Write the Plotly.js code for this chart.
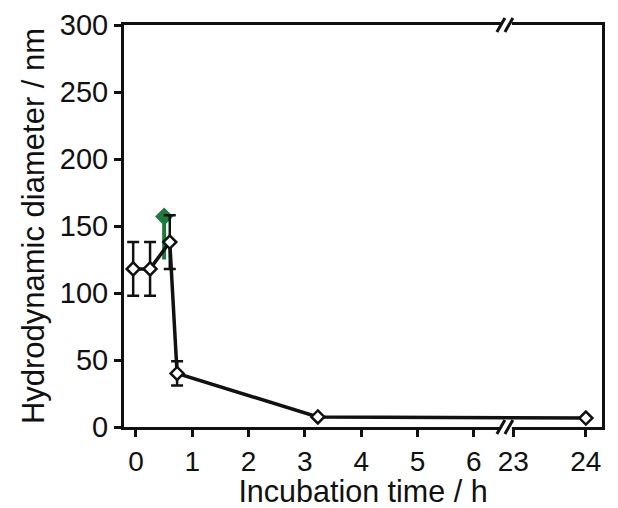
<!DOCTYPE html>
<html>
<head>
<meta charset="utf-8">
<script src="https://cdn.plot.ly/plotly-3.0.1.min.js"></script>
<style>html,body{margin:0;padding:0;background:#fff;}#chart{width:618px;height:508px;}</style>
</head>
<body>
<div id="chart"></div>
<script>
// Data (incubation time in h, hydrodynamic diameter in nm)
const timeBlack = [-0.05, 0.25, 0.6, 0.73, 3.23, 24];
const diamBlack = [118, 118, 138, 40, 7.5, 6.7];
const errBlack  = [20, 20, 20, 9, 0, 0];
const timeGreen = [0.5];
const diamGreen = [157];
const errGreenMinus = [32];
const tickTimes = [0, 1, 2, 3, 4, 5, 6, 23, 24];
const tickLabels = ['0', '1', '2', '3', '4', '5', '6', '23', '24'];

// Broken x axis: 0–6.5 h linear, then 23–24 h on a compressed segment
const BREAK_POS = 6.57;
function axisPos(t) { return t <= 6.5 ? t : 6.7 + (t - 23) * 1.29; }

const font = 'Arial, "Liberation Sans", Helvetica, sans-serif';

const traces = [
  {
    x: timeGreen.map(axisPos), y: diamGreen, type: 'scatter', mode: 'markers',
    marker: {symbol: 'diamond', size: 14, color: '#1e7b3c'},
    error_y: {type: 'data', symmetric: false, array: [0], arrayminus: errGreenMinus, visible: true,
              color: '#1e7b3c', thickness: 4, width: 0},
    showlegend: false, hoverinfo: 'x+y'
  },
  {
    x: timeBlack.map(axisPos), y: diamBlack, type: 'scatter', mode: 'lines+markers',
    line: {color: '#111', width: 3.5},
    marker: {symbol: 'diamond', size: 10, color: '#fff', line: {color: '#111', width: 2.5}},
    error_y: {type: 'data', array: errBlack, visible: true, color: '#111', thickness: 2.5, width: 6},
    showlegend: false, hoverinfo: 'x+y'
  }
];

function breakMarks(yAnchor) {
  const common = {type: 'line', xref: 'x', yref: 'paper', xsizemode: 'pixel', ysizemode: 'pixel',
                  xanchor: BREAK_POS, yanchor: yAnchor, line: {color: '#111', width: 3}, layer: 'above'};
  return [
    {type: 'rect', xref: 'x', yref: 'paper', xsizemode: 'pixel', ysizemode: 'pixel',
     xanchor: BREAK_POS, yanchor: yAnchor, x0: -5, x1: 6, y0: -3, y1: 3,
     fillcolor: '#fff', line: {width: 0}, layer: 'above'},
    Object.assign({}, common, {x0: -9, x1: -1, y0: -7, y1: 7}),
    Object.assign({}, common, {x0: -1, x1: 7, y0: -7, y1: 7})
  ];
}

const layout = {
  width: 618, height: 508,
  margin: {l: 124, r: 16, t: 25, b: 81, pad: 0},
  paper_bgcolor: '#fff', plot_bgcolor: '#fff',
  font: {family: font, color: '#111', size: 29},
  xaxis: {
    range: [-0.213, 8.277], showgrid: false, zeroline: false,
    showline: true, linecolor: '#111', linewidth: 3, mirror: true,
    ticks: 'outside', ticklen: 7, tickwidth: 3, tickcolor: '#111',
    tickvals: tickTimes.map(axisPos), ticktext: tickLabels,
    tickfont: {family: font, size: 28, color: '#111'},
    title: {text: 'Incubation time / h', font: {family: font, size: 30.5, color: '#111'}, standoff: 9}
  },
  yaxis: {
    range: [0, 300], showgrid: false, zeroline: false,
    showline: true, linecolor: '#111', linewidth: 3, mirror: true,
    ticks: 'outside', ticklen: 7, tickwidth: 3, tickcolor: '#111',
    tickvals: [0, 50, 100, 150, 200, 250, 300],
    tickfont: {family: font, size: 29, color: '#111'},
    title: {text: 'Hydrodynamic diameter / nm', font: {family: font, size: 31, color: '#111'}, standoff: 6}
  },
  shapes: breakMarks(0).concat(breakMarks(1))
};

Plotly.newPlot('chart', traces, layout, {displayModeBar: false, staticPlot: true});
</script>
</body>
</html>
